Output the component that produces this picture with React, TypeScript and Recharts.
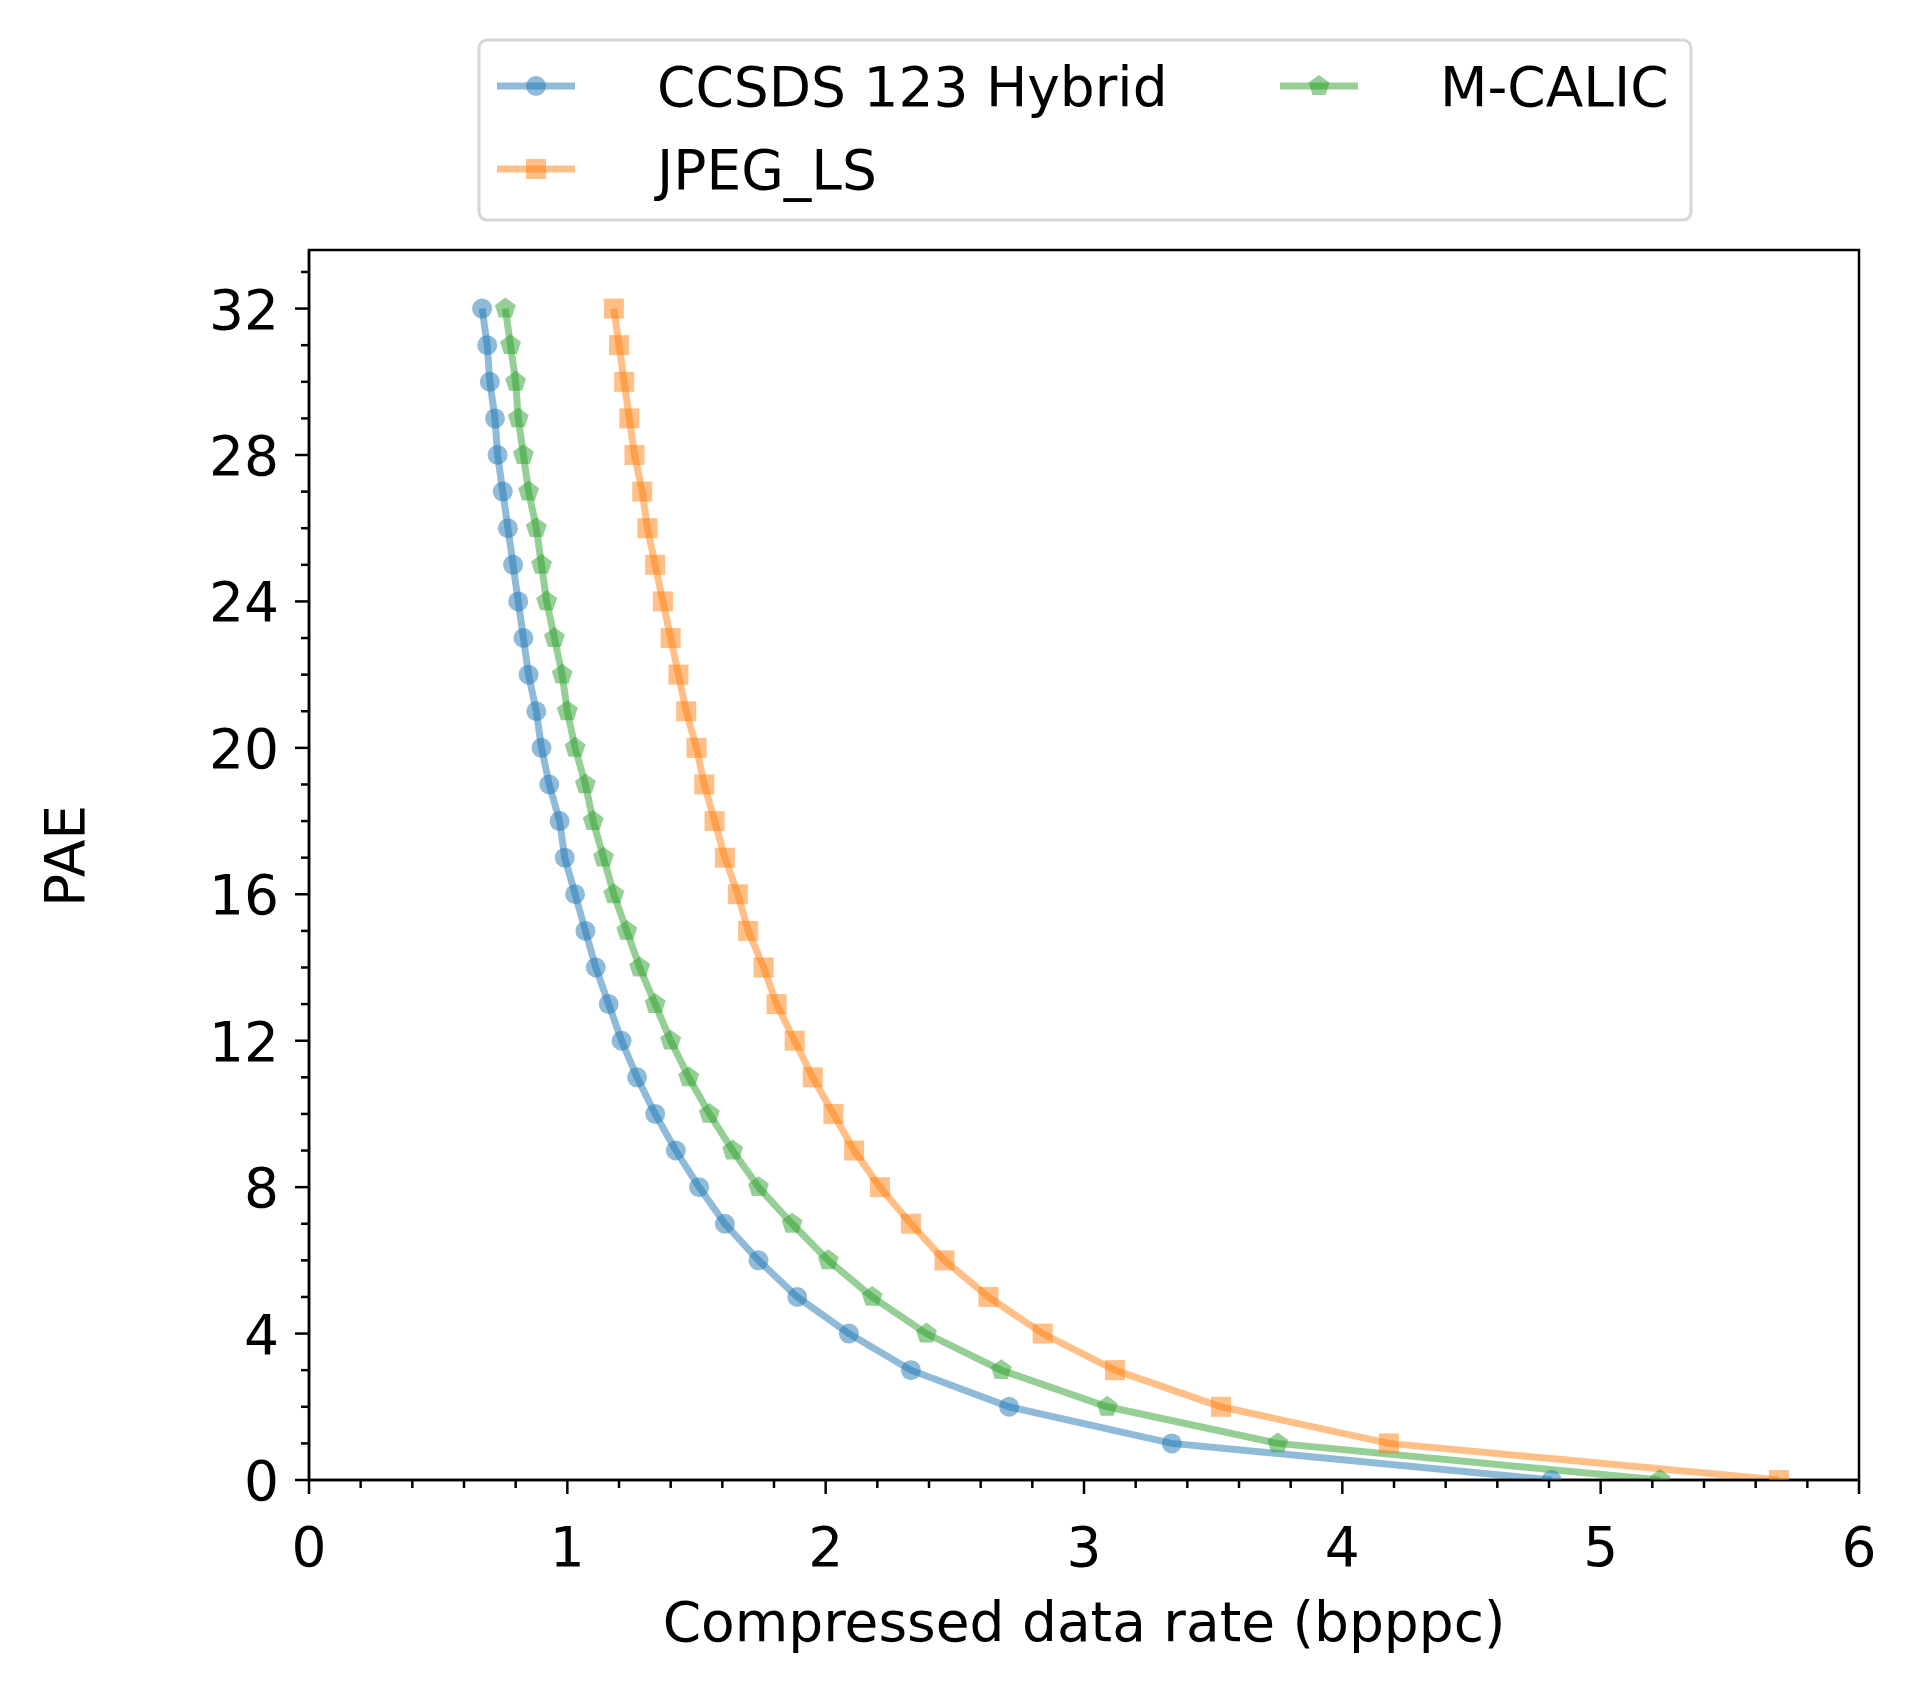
import { Line, LineChart, ReferenceArea, XAxis, YAxis } from 'recharts';

const PAE = [0, 1, 2, 3, 4, 5, 6, 7, 8, 9, 10, 11, 12, 13, 14, 15, 16, 17, 18, 19, 20, 21, 22, 23, 24, 25, 26, 27, 28, 29, 30, 31, 32];
const CCSDS_RATE = [4.81, 3.34, 2.71, 2.33, 2.09, 1.89, 1.74, 1.61, 1.51, 1.42, 1.34, 1.27, 1.21, 1.16, 1.11, 1.07, 1.03, 0.99, 0.97, 0.93, 0.9, 0.88, 0.85, 0.83, 0.81, 0.79, 0.77, 0.75, 0.73, 0.72, 0.7, 0.69, 0.67];
const JPEGLS_RATE = [5.69, 4.18, 3.53, 3.12, 2.84, 2.63, 2.46, 2.33, 2.21, 2.11, 2.03, 1.95, 1.88, 1.81, 1.76, 1.7, 1.66, 1.61, 1.57, 1.53, 1.5, 1.46, 1.43, 1.4, 1.37, 1.34, 1.31, 1.29, 1.26, 1.24, 1.22, 1.2, 1.18];
const MCALIC_RATE = [5.23, 3.75, 3.09, 2.68, 2.39, 2.18, 2.01, 1.87, 1.74, 1.64, 1.55, 1.47, 1.4, 1.34, 1.28, 1.23, 1.18, 1.14, 1.1, 1.07, 1.03, 1.0, 0.98, 0.95, 0.92, 0.9, 0.88, 0.85, 0.83, 0.81, 0.8, 0.78, 0.76];

const X_TICKS = Array.from({ length: 31 }, (_, i) => +(i * 0.2).toFixed(1)); // major every 1, minor every 0.2
const Y_TICKS = Array.from({ length: 34 }, (_, i) => i); // major every 4, minor every 1

const BLUE = '#1f77b4';
const ORANGE = '#ff7f0e';
const GREEN = '#2ca02c';
const FONT = '"DejaVu Sans", sans-serif';
const FS = 55;

const toPoints = (rates: number[]) => rates.map((r, i) => ({ x: r, y: PAE[i] }));

function CircleDot({ cx, cy }: any) {
  return <circle cx={cx} cy={cy} r={10} fill={BLUE} fillOpacity={0.5} />;
}
function SquareDot({ cx, cy }: any) {
  return <rect x={cx - 10} y={cy - 10} width={20} height={20} fill={ORANGE} fillOpacity={0.5} />;
}
function PentagonDot({ cx, cy }: any) {
  const r = 11;
  const pts = [0, 1, 2, 3, 4]
    .map((k) => {
      const a = -Math.PI / 2 + (k * 2 * Math.PI) / 5;
      return `${cx + r * Math.cos(a)},${cy + r * Math.sin(a)}`;
    })
    .join(' ');
  return <polygon points={pts} fill={GREEN} fillOpacity={0.5} />;
}

function XTick({ x, y, payload }: any) {
  const v = payload.value;
  const major = Math.abs(v - Math.round(v)) < 1e-6;
  return (
    <g>
      <line x1={x} x2={x} y1={y} y2={y + (major ? 14 : 8)} stroke="#000" strokeWidth={2.5} />
      {major && (
        <text x={x} y={y + 86} textAnchor="middle" fontSize={FS} fontFamily={FONT} fill="#000">
          {Math.round(v)}
        </text>
      )}
    </g>
  );
}

function YTick({ x, y, payload }: any) {
  const v = payload.value;
  const major = v % 4 === 0;
  return (
    <g>
      <line x1={x} x2={x - (major ? 14 : 8)} y1={y} y2={y} stroke="#000" strokeWidth={2.5} />
      {major && (
        <text x={x - 30} y={y + 20} textAnchor="end" fontSize={FS} fontFamily={FONT} fill="#000">
          {v}
        </text>
      )}
    </g>
  );
}

function LegendRow({ x, y, color, marker, label }: any) {
  return (
    <g>
      <line x1={x} x2={x + 78} y1={y} y2={y} stroke={color} strokeOpacity={0.5} strokeWidth={7} />
      {marker(x + 39, y)}
      <text x={x + 160} y={y + 20} fontSize={FS} fontFamily={FONT} fill="#000">
        {label}
      </text>
    </g>
  );
}

export default function App() {
  return (
    <div style={{ position: 'absolute', left: 0, top: 0, width: 1918, height: 1690, background: '#fff' }}>
      <LineChart width={1918} height={1690} margin={{ top: 250, right: 59, bottom: 90, left: 189 }}>
        <XAxis
          type="number"
          dataKey="x"
          domain={[0, 6]}
          ticks={X_TICKS}
          interval={0}
          allowDataOverflow
          height={120}
          tickSize={0}
          tickMargin={0}
          tickLine={false}
          tick={<XTick />}
          axisLine={{ stroke: '#000', strokeWidth: 2.5 }}
        />
        <YAxis
          type="number"
          dataKey="y"
          domain={[0, 33.6]}
          ticks={Y_TICKS}
          interval={0}
          allowDataOverflow
          width={120}
          tickSize={0}
          tickMargin={0}
          tickLine={false}
          tick={<YTick />}
          axisLine={{ stroke: '#000', strokeWidth: 2.5 }}
        />
        <ReferenceArea x1={0} x2={6} y1={0} y2={33.6} fill="none" stroke="#000" strokeWidth={2.5} ifOverflow="visible" />
        <Line data={toPoints(CCSDS_RATE)} dataKey="y" type="linear" stroke={BLUE} strokeOpacity={0.5} strokeWidth={7} dot={<CircleDot />} isAnimationActive={false} />
        <Line data={toPoints(JPEGLS_RATE)} dataKey="y" type="linear" stroke={ORANGE} strokeOpacity={0.5} strokeWidth={7} dot={<SquareDot />} isAnimationActive={false} />
        <Line data={toPoints(MCALIC_RATE)} dataKey="y" type="linear" stroke={GREEN} strokeOpacity={0.5} strokeWidth={7} dot={<PentagonDot />} isAnimationActive={false} />
      </LineChart>
      <svg width={1918} height={1690} style={{ position: 'absolute', left: 0, top: 0, pointerEvents: 'none' }}>
        <rect x={479} y={40} width={1212} height={180} rx={8} fill="#fff" fillOpacity={0.8} stroke="#d6d6d6" strokeWidth={3} />
        <LegendRow x={497} y={86} color={BLUE} label="CCSDS 123 Hybrid" marker={(cx: number, cy: number) => <CircleDot cx={cx} cy={cy} />} />
        <LegendRow x={497} y={169} color={ORANGE} label="JPEG_LS" marker={(cx: number, cy: number) => <SquareDot cx={cx} cy={cy} />} />
        <LegendRow x={1280} y={86} color={GREEN} label="M-CALIC" marker={(cx: number, cy: number) => <PentagonDot cx={cx} cy={cy} />} />
        <text x={1084} y={1641} textAnchor="middle" fontSize={FS} fontFamily={FONT} fill="#000">
          Compressed data rate (bpppc)
        </text>
        <text x={84} y={856} textAnchor="middle" fontSize={FS} fontFamily={FONT} fill="#000" transform="rotate(-90 84 856)">
          PAE
        </text>
      </svg>
    </div>
  );
}
